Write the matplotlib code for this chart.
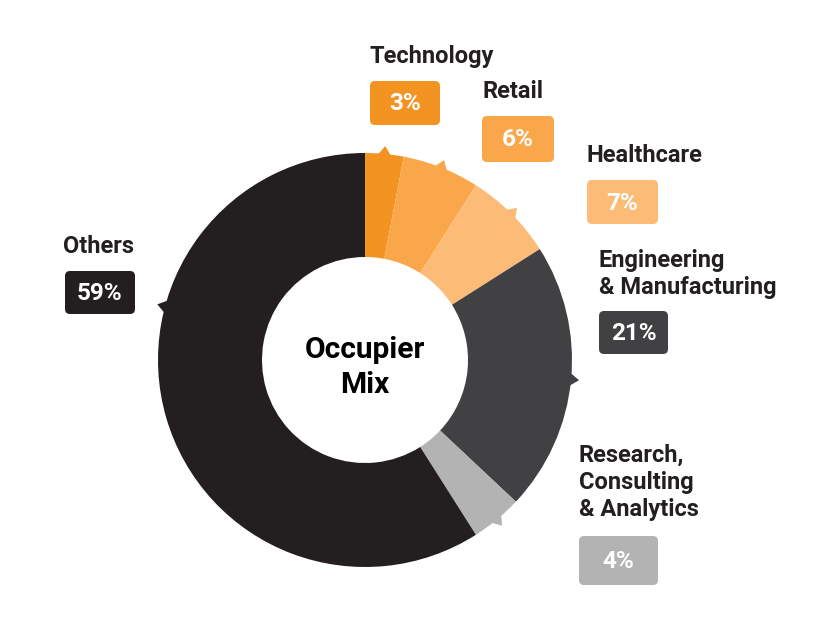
import matplotlib
matplotlib.use("Agg")
import matplotlib.pyplot as plt
import numpy as np
from matplotlib.patches import FancyBboxPatch, Polygon

plt.rcParams['font.family'] = ['Roboto', 'DejaVu Sans']

sectors = ["Technology", "Retail", "Healthcare", "Engineering\n& Manufacturing",
           "Research,\nConsulting\n& Analytics", "Others"]
shares = [3, 6, 7, 21, 4, 59]
colors = ["#F39322", "#F9A74A", "#FCBB76", "#414042", "#B3B3B3", "#231F20"]

W, H = 840, 627
cx, cy = 365, 360       # centre in pixel coords (y down)
r_out, r_in = 207, 103

# label anchors: (text x, first baseline y, box x0, box y0, box x1, box y1) in pixels
label_pos = [
    (370, 63, 370, 81, 440, 125),
    (482, 98, 482, 116, 554, 162),
    (587, 162, 587, 180, 658, 224),
    (599, 267, 599, 311, 668, 354),
    (579, 462, 579, 536, 658, 585),
    (63, 253, 65, 271, 135, 314),
]
notch_override = {5: 165.0}

fig = plt.figure(figsize=(W / 100, H / 100), dpi=100)
ax = fig.add_axes([0, 0, 1, 1])

def py(y):
    return H - y

ax.pie(shares, colors=colors, startangle=90, counterclock=False,
       radius=r_out, center=(cx, py(cy)),
       wedgeprops=dict(width=r_out - r_in, linewidth=0))

# small pointer notches on the rim
cum = np.cumsum([0] + shares)
for i in range(len(shares)):
    mid = 90 - 3.6 * (cum[i] + cum[i + 1]) / 2
    ang = notch_override.get(i, mid)
    a = np.deg2rad(ang)
    da = np.deg2rad(2.0)
    pts = [(cx + (r_out - 2) * np.cos(a - da), py(cy) + (r_out - 2) * np.sin(a - da)),
           (cx + (r_out + 8) * np.cos(a), py(cy) + (r_out + 8) * np.sin(a)),
           (cx + (r_out - 2) * np.cos(a + da), py(cy) + (r_out - 2) * np.sin(a + da))]
    ax.add_patch(Polygon(pts, closed=True, facecolor=colors[i], edgecolor='none'))

for i, name in enumerate(sectors):
    tx, ty, bx0, by0, bx1, by1 = label_pos[i]
    for k, line in enumerate(name.split("\n")):
        ax.text(tx, py(ty + 27 * k), line, fontsize=17, fontweight='bold',
                color="#231F20", ha='left', va='baseline')
    ax.add_patch(FancyBboxPatch((bx0, py(by1)), bx1 - bx0, by1 - by0,
                                boxstyle="round,pad=0,rounding_size=5",
                                facecolor=colors[i], edgecolor='none'))
    ax.text((bx0 + bx1) / 2, py((by0 + by1) / 2) - 1, "%d%%" % shares[i],
            fontsize=17.5, fontweight='bold', color='white',
            ha='center', va='center')

ax.text(cx, py(358), "Occupier", fontsize=21.5, fontweight='bold',
        color='black', ha='center', va='baseline')
ax.text(cx, py(393), "Mix", fontsize=21.5, fontweight='bold',
        color='black', ha='center', va='baseline')

ax.set_xlim(0, W)
ax.set_ylim(0, H)
ax.set_aspect('equal')
ax.axis('off')

fig.savefig("out.png", dpi=100, facecolor='white')
